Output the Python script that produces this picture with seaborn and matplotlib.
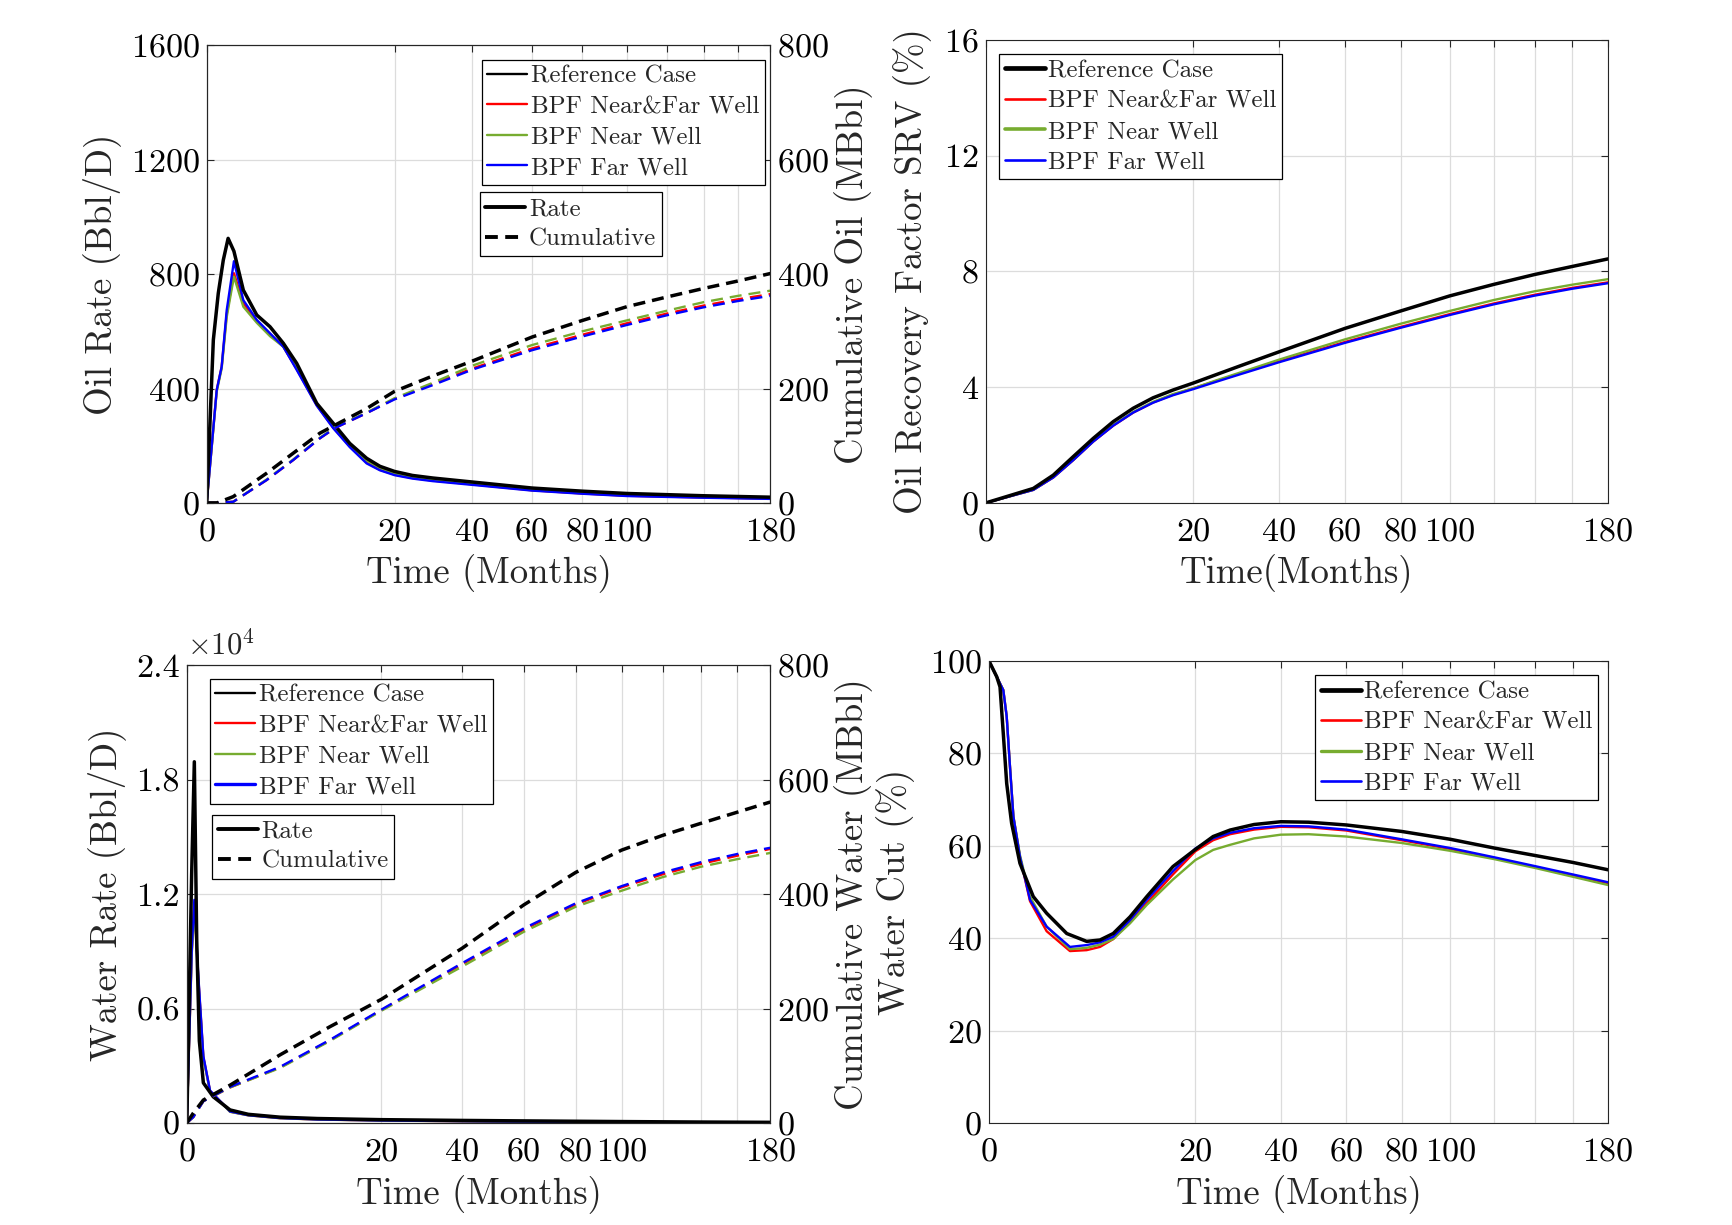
import matplotlib
matplotlib.use("agg")
import matplotlib.pyplot as plt
from matplotlib.lines import Line2D
from matplotlib.ticker import FuncFormatter
import numpy as np
import seaborn as sns

W, H = 1733, 1225

# ---------------- data ----------------
# oil rate, Bbl/D
t_orate_ref = [0, 0.025, 0.076, 0.156, 0.26, 0.42, 0.76, 1.42, 2.27, 3.33, 4.59, 6.86, 9.08,
               11.6, 14.5, 17, 20, 24, 29, 40, 60, 80, 100, 140, 180]
orate_ref = [0, 570, 733, 849, 925, 880, 744, 657, 616, 558, 488, 348, 278,
             208, 156, 128, 110, 96, 87, 73, 52, 41, 33, 25, 20]
t_orate_bpf = [0, 0.057, 0.127, 0.227, 0.42, 0.76, 1.42, 2.27, 3.33, 4.59, 6.86, 9.08,
               11.6, 14.5, 17, 20, 24, 29, 40, 60, 80, 100, 140, 180]
orate_nf = [0, 395, 476, 660, 803, 698, 636, 590, 546, 468, 342, 263,
            198, 141, 116, 99, 87, 78, 65, 44, 33, 25, 19, 15]
orate_near = [0, 390, 470, 650, 791, 686, 630, 583, 546, 470, 346, 268,
              204, 148, 122, 103, 90, 81, 67, 45, 34, 26, 20, 15]
orate_far = [0, 395, 476, 674, 845, 709, 640, 593, 546, 465, 340, 261,
             195, 138, 114, 97, 85, 76, 63, 43, 32, 24, 18, 14]

# cumulative oil, MBbl
t_ocum = [0, 0.06, 0.4, 2.04, 4.25, 7.27, 9.33, 14.5, 20, 29, 40, 60, 80, 100, 120, 140, 160, 180]
ocum_ref = [0, 0, 11, 52, 87, 122, 136, 165, 195, 222, 248, 290, 319, 343, 360, 375, 388, 401]
ocum_nf = [0, 0, 2, 40, 75, 113, 131, 157, 182, 208, 235, 270, 294, 314, 331, 345, 356, 365]
ocum_near = [0, 0, 2, 41, 76, 114, 132, 158, 183, 210, 240, 276, 300, 319, 336, 351, 362, 371]
ocum_far = [0, 0, 2, 40, 75, 113, 131, 157, 181, 206, 233, 267, 291, 311, 328, 342, 353, 362]

# oil recovery factor, %
t_rf = [0, 1.05, 2.12, 3.56, 5.37, 7.56, 10.1, 13.0, 16.3, 20, 25, 30, 40, 60, 80, 100, 120, 140, 160, 180]
rf_ref = [0, 0.5, 0.96, 1.6, 2.23, 2.81, 3.27, 3.63, 3.90, 4.14, 4.45, 4.73, 5.22, 6.03, 6.63, 7.15,
          7.55, 7.89, 8.17, 8.43]
rf_nf = [0, 0.45, 0.88, 1.48, 2.12, 2.67, 3.12, 3.47, 3.74, 3.96, 4.23, 4.47, 4.89, 5.56, 6.08, 6.52,
         6.89, 7.19, 7.43, 7.62]
rf_near = [0, 0.45, 0.89, 1.49, 2.13, 2.69, 3.14, 3.49, 3.76, 3.96, 4.25, 4.50, 4.95, 5.65, 6.19, 6.63,
           7.01, 7.31, 7.54, 7.73]
rf_far = [0, 0.45, 0.88, 1.48, 2.12, 2.67, 3.12, 3.46, 3.72, 3.93, 4.20, 4.44, 4.86, 5.53, 6.05, 6.49,
          6.86, 7.16, 7.40, 7.59]

# water rate, Bbl/D
t_wrate_ref = [0, 0.0126, 0.03, 0.052, 0.083, 0.145, 0.37, 0.99, 2, 4.6, 9, 20, 40, 60, 100, 140, 180]
wrate_ref = [0, 13100, 18940, 9600, 4300, 2100, 1370, 680, 450, 300, 230, 170, 130, 105, 70, 45, 30]
t_wrate_bpf = [0, 0.0126, 0.03, 0.069, 0.145, 0.285, 0.99, 2, 4.6, 9, 20, 40, 60, 100, 140, 180]
wrate_nf = [0, 8900, 11500, 7700, 3450, 1680, 590, 400, 250, 180, 125, 90, 68, 44, 30, 20]
wrate_near = [0, 8800, 11300, 7600, 3400, 1650, 580, 395, 245, 176, 122, 88, 66, 43, 29, 19]
wrate_far = [0, 9000, 11700, 7800, 3500, 1700, 600, 405, 255, 182, 128, 92, 70, 45, 30, 20]

# cumulative water, MBbl
t_wcum = [0, 0.022, 0.145, 0.99, 4.6, 10.8, 20, 40, 60, 80, 100, 120, 140, 160, 180]
wcum_ref = [0, 17, 40, 66, 119, 168, 216, 305, 381, 438, 477, 503, 524, 543, 561]
wcum_nf = [0, 10, 38, 62, 97, 144, 197, 277, 338, 382, 412, 435, 453, 467, 479]
wcum_near = [0, 10, 38, 62, 96, 143, 196, 273, 334, 378, 406, 430, 448, 461, 472]
wcum_far = [0, 10, 38, 63, 98, 145, 198, 279, 340, 384, 414, 438, 456, 470, 481]

# water cut, %
t_wc_ref = [0, 0.028, 0.057, 0.096, 0.147, 0.24, 0.45, 0.92, 1.56, 2.84, 4.48, 5.79, 7.25, 9.34,
            11.7, 15.9, 20, 23.6, 27.3, 33, 40, 48, 60, 80, 100, 120, 140, 160, 180]
wc_ref = [100, 96.6, 94.4, 84.3, 73.5, 64.9, 56.2, 49, 45.4, 41, 39.3, 39.6, 41, 44.6,
          49, 55.5, 59.2, 62, 63.4, 64.6, 65.2, 65.1, 64.5, 63.1, 61.4, 59.5, 57.9, 56.4, 54.8]
t_wc_bpf = [0, 0.096, 0.147, 0.207, 0.28, 0.45, 0.79, 1.56, 3.08, 4.48, 5.79, 7.25, 9.34, 11.7, 15.9,
            20, 23.6, 27.3, 33, 40, 48, 60, 80, 100, 120, 140, 160, 180]
wc_nf = [100, 93.7, 88, 77.1, 66.3, 57.6, 48, 41.5, 37.2, 37.4, 38.1, 39.8, 43.6, 47.6, 53.8,
         58.8, 61.2, 62.5, 63.5, 64.1, 64.0, 63.3, 61.2, 59.3, 57.3, 55.4, 53.6, 51.9]
wc_near = [100, 93.7, 88, 77.1, 66.3, 58, 49, 42.5, 37.6, 37.9, 38.6, 39.8, 43.2, 47.2, 52.7,
           56.9, 59.1, 60.2, 61.6, 62.4, 62.5, 62, 60.6, 58.9, 57.1, 55.2, 53.3, 51.5]
wc_far = [100, 93.7, 88, 77.1, 66.3, 57.6, 48.3, 42.5, 38.1, 38.5, 39.1, 40.3, 43.9, 48.3, 54.5,
          59.4, 61.6, 62.8, 63.8, 64.3, 64.2, 63.5, 61.4, 59.5, 57.5, 55.6, 53.8, 52.1]

case_labels = ["Reference Case", "BPF Near&Far Well", "BPF Near Well", "BPF Far Well"]
x_grid = [0, 20, 40, 60, 80, 100, 120, 140, 160, 180]
x_labels = ["0", "20", "40", "60", "80", "100", "", "", "", "180"]

# ---------------- style ----------------
sns.set_style("white")
plt.rcParams.update({
    "font.family": "serif",
    "font.serif": ["cmr10"],
    "mathtext.fontset": "cm",
    "axes.unicode_minus": False,
    "axes.formatter.use_mathtext": True,
    "legend.fancybox": False,
    "legend.framealpha": 1,
    "legend.edgecolor": "black",
})

C_REF, C_NF, C_NEAR, C_FAR = "black", "#FF0000", "#77AC30", "#0000FF"
colors = [C_REF, C_NF, C_NEAR, C_FAR]
LW_REF, LW_BPF = 2.5, 1.7
PX = 100 / 72.0
TICK_FS, LABEL_FS = 24.5, 26.5


def dash(lw):
    # MATLAB-like '--' : ~12 px dash, ~7 px gap
    return (0, (12 / PX / lw, 7 / PX / lw))


fig = plt.figure(figsize=(W / 100, H / 100), dpi=100)


def make_axes(l, t, r, b):
    return fig.add_axes([l / W, 1 - b / H, (r - l) / W, (b - t) / H])


def sqrt_x(ax):
    ax.set_xscale("function", functions=(lambda x: np.sqrt(np.clip(x, 0, None)),
                                         lambda x: np.square(x)))
    ax.set_xlim(0, 180)
    ax.set_xticks(x_grid)
    ax.set_xticklabels(x_labels)


def style(ax, right=True):
    ax.grid(True, color="#dcdcdc", lw=0.9)
    ax.set_axisbelow(True)
    ax.tick_params(direction="in", length=5, width=0.8, labelsize=TICK_FS, top=True,
                   right=right, pad=5, colors="#262626", labelcolor="black")
    ax.tick_params(axis="x", pad=11)
    for s in ax.spines.values():
        s.set_color("#262626")
        s.set_linewidth(0.8)


def style_twin(ax):
    ax.tick_params(direction="in", length=5, width=0.8, labelsize=TICK_FS, pad=5,
                   colors="#262626", labelcolor="black")
    ax.grid(False)
    for s in ax.spines.values():
        s.set_color("#262626")
        s.set_linewidth(0.8)


def line(ax, t, v, c, lw, ls="-", z=2):
    sns.lineplot(x=t, y=v, ax=ax, color=c, lw=lw, linestyle=ls, estimator=None,
                 sort=False, legend=False, zorder=z)


def legend_at(ax, handles, labels, x, y):
    leg = ax.legend(handles, labels, loc="upper left", bbox_to_anchor=(x / W, 1 - y / H),
                    bbox_transform=fig.transFigure, fontsize=18, handlelength=1.6,
                    handletextpad=0.15, labelspacing=0.32, borderpad=0.22,
                    borderaxespad=0)
    leg.get_frame().set_linewidth(0.9)
    return leg


def case_handles(lws):
    return [Line2D([], [], color=c, lw=w) for c, w in zip(colors, lws)]


type_handles = [Line2D([], [], color="k", lw=2.8),
                Line2D([], [], color="k", lw=2.8, linestyle=(0, (3.3, 1.9)))]

# ---------------- top-left: oil rate + cumulative oil ----------------
ax1 = make_axes(206.7, 45.3, 770.3, 502.9)
sqrt_x(ax1)
style(ax1, right=False)
ax1b = ax1.twinx()
for t, v, c, lw in [(t_orate_bpf, orate_nf, C_NF, LW_BPF), (t_orate_bpf, orate_near, C_NEAR, LW_BPF),
                    (t_orate_bpf, orate_far, C_FAR, LW_BPF), (t_orate_ref, orate_ref, C_REF, LW_REF)]:
    line(ax1, t, v, c, lw)
for v, c, lw in [(ocum_nf, C_NF, LW_BPF), (ocum_near, C_NEAR, LW_BPF),
                 (ocum_far, C_FAR, LW_BPF), (ocum_ref, C_REF, LW_REF)]:
    line(ax1b, t_ocum, v, c, lw, dash(lw))
ax1.set_ylim(0, 1600)
ax1.set_yticks([0, 400, 800, 1200, 1600])
ax1b.set_ylim(0, 800)
ax1b.set_yticks([0, 200, 400, 600, 800])
style_twin(ax1b)
ax1.set_xlabel("Time (Months)", fontsize=LABEL_FS)
ax1.set_ylabel("Oil Rate (Bbl/D)", fontsize=LABEL_FS)
ax1b.set_ylabel("Cumulative Oil (MBbl)", fontsize=LABEL_FS)
l1 = legend_at(ax1b, case_handles([1.7] * 4), case_labels, 481.9, 59.7)
ax1b.add_artist(l1)
legend_at(ax1b, type_handles, ["Rate", "Cumulative"], 479.7, 192.3)

# ---------------- top-right: recovery factor ----------------
ax2 = make_axes(985.8, 39.8, 1608, 502.9)
sqrt_x(ax2)
style(ax2)
for v, c, lw in [(rf_nf, C_NF, LW_BPF), (rf_near, C_NEAR, LW_BPF),
                 (rf_far, C_FAR, LW_BPF), (rf_ref, C_REF, LW_REF)]:
    line(ax2, t_rf, v, c, lw)
ax2.set_ylim(0, 16)
ax2.set_yticks([0, 4, 8, 12, 16])
ax2.set_xlabel("Time(Months)", fontsize=LABEL_FS)
ax2.set_ylabel("Oil Recovery Factor SRV (%)", fontsize=LABEL_FS)
legend_at(ax2, case_handles([3.4, 1.9, 2.6, 1.9]), case_labels, 999.1, 54.2)

# ---------------- bottom-left: water rate + cumulative water ----------------
ax3 = make_axes(186.8, 665.3, 770.3, 1122.9)
sqrt_x(ax3)
style(ax3, right=False)
ax3b = ax3.twinx()
for t, v, c, lw in [(t_wrate_bpf, wrate_nf, C_NF, LW_BPF), (t_wrate_bpf, wrate_near, C_NEAR, LW_BPF),
                    (t_wrate_bpf, wrate_far, C_FAR, LW_BPF), (t_wrate_ref, wrate_ref, C_REF, LW_REF)]:
    line(ax3, t, v, c, lw)
for v, c, lw in [(wcum_nf, C_NF, LW_BPF), (wcum_near, C_NEAR, LW_BPF),
                 (wcum_far, C_FAR, LW_BPF), (wcum_ref, C_REF, LW_REF)]:
    line(ax3b, t_wcum, v, c, lw, dash(lw))
ax3.set_ylim(0, 24000)
ax3.set_yticks([0, 6000, 12000, 18000, 24000])
ax3.yaxis.set_major_formatter(FuncFormatter(lambda v, p: "0" if v == 0 else "%g" % (v / 1e4)))
ax3.text(0.0, 1.012, r"$\times10^4$", transform=ax3.transAxes, fontsize=22,
         ha="left", va="bottom")
ax3b.set_ylim(0, 800)
ax3b.set_yticks([0, 200, 400, 600, 800])
style_twin(ax3b)
ax3.set_xlabel("Time (Months)", fontsize=LABEL_FS)
ax3.set_ylabel("Water Rate (Bbl/D)", fontsize=LABEL_FS)
ax3b.set_ylabel("Cumulative Water (MBbl)", fontsize=LABEL_FS)
l3 = legend_at(ax3b, case_handles([1.7, 1.7, 1.7, 2.4]), case_labels, 210, 678.6)
ax3b.add_artist(l3)
legend_at(ax3b, type_handles, ["Rate", "Cumulative"], 212.2, 814.5)

# ---------------- bottom-right: water cut ----------------
ax4 = make_axes(989, 661, 1608, 1122.9)
sqrt_x(ax4)
style(ax4)
for t, v, c, lw in [(t_wc_bpf, wc_nf, C_NF, LW_BPF), (t_wc_bpf, wc_near, C_NEAR, LW_BPF),
                    (t_wc_bpf, wc_far, C_FAR, LW_BPF), (t_wc_ref, wc_ref, C_REF, LW_REF)]:
    line(ax4, t, v, c, lw)
ax4.set_ylim(0, 100)
ax4.set_yticks([0, 20, 40, 60, 80, 100])
ax4.set_xlabel("Time (Months)", fontsize=LABEL_FS)
ax4.set_ylabel("Water Cut (%)", fontsize=LABEL_FS)
legend_at(ax4, case_handles([3.4, 1.9, 2.4, 1.9]), case_labels, 1315.2, 675.3)

# label placement (centre of each label, axes coordinates)
for ax, xl, yl in [(ax1, -0.1545, -0.1864), (ax2, -0.1527, -0.1172),
                   (ax3, -0.157, -0.1383), (ax4, -0.1554, -0.1515)]:
    ax.xaxis.label.set_va("center")
    ax.xaxis.set_label_coords(0.5, xl)
    ax.yaxis.label.set_va("center")
    ax.yaxis.set_label_coords(yl, 0.5)
for ax, yr in [(ax1b, 1.1485), (ax3b, 1.1434)]:
    ax.yaxis.label.set_va("center")
    ax.yaxis.set_label_coords(yr, 0.5)

fig.savefig("out.png", dpi=100)
